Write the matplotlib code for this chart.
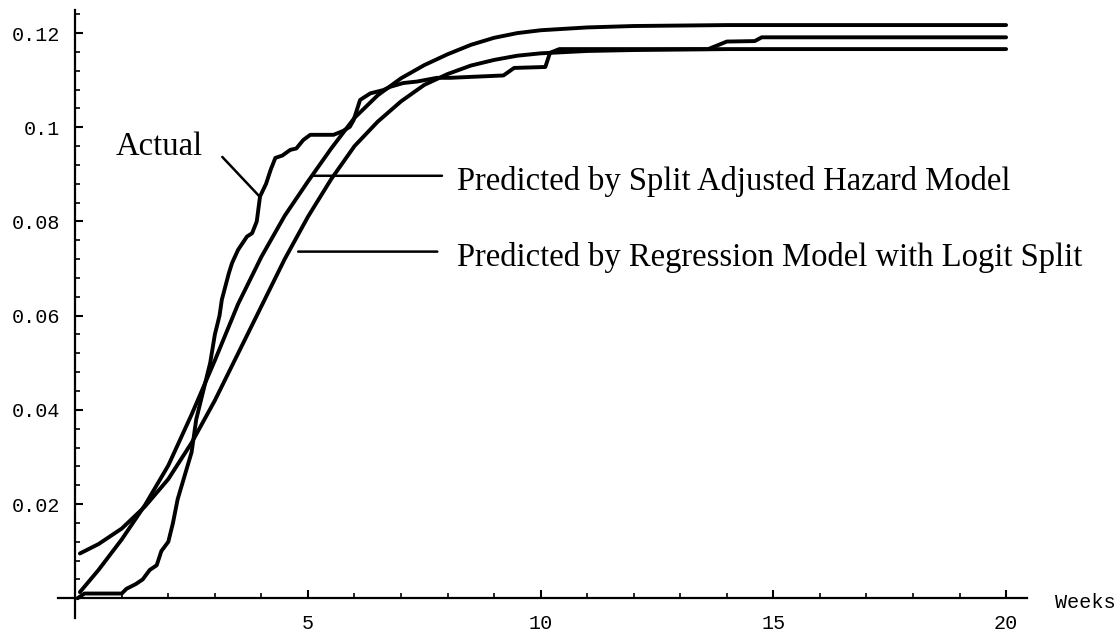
import matplotlib
matplotlib.use("Agg")
import matplotlib.pyplot as plt
from matplotlib.ticker import MultipleLocator, FixedLocator

# ---- data ----
hazard_weeks = [0.1, 0.5, 1.0, 1.5, 2.0, 2.5, 3.0, 3.5, 4.0, 4.5, 5.0, 5.5, 6.0, 6.5,
                7.0, 7.5, 8.0, 8.5, 9.0, 9.5, 10.0, 11.0, 12.0, 14.0, 20.0]
hazard_vals = [0.0013, 0.0060, 0.0125, 0.0198, 0.0282, 0.0390, 0.0505, 0.0625, 0.0725,
               0.0812, 0.0885, 0.0955, 0.1020, 0.1068, 0.1104, 0.1132, 0.1155, 0.1175,
               0.1190, 0.1200, 0.1206, 0.1212, 0.1215, 0.1217, 0.1217]

regr_weeks = [0.1, 0.5, 1.0, 1.5, 2.0, 2.5, 3.0, 3.5, 4.0, 4.5, 5.0, 5.5, 6.0, 6.5,
              7.0, 7.5, 8.0, 8.5, 9.0, 9.5, 10.0, 11.0, 12.0, 13.0, 14.0, 20.0]
regr_vals = [0.0095, 0.0115, 0.0148, 0.0195, 0.0253, 0.0330, 0.0420, 0.0520, 0.0620,
             0.0720, 0.0810, 0.0890, 0.0960, 0.1012, 0.1055, 0.1090, 0.1113, 0.1131,
             0.1143, 0.1152, 0.1157, 0.1162, 0.1164, 0.1165, 0.1166, 0.1166]

actual_weeks = [0.05, 0.2, 1.0, 1.1, 1.3, 1.45, 1.6, 1.75, 1.85, 2.0, 2.1, 2.2, 2.35,
                2.5, 2.6, 2.75, 2.9, 3.0, 3.1, 3.15, 3.3, 3.37, 3.5, 3.69, 3.8, 3.9,
                3.97, 4.1, 4.2, 4.3, 4.45, 4.62, 4.75, 4.9, 5.05, 5.55, 5.75, 5.9, 5.98,
                6.12, 6.34, 6.62, 6.77, 7.05, 7.34, 7.77, 8.06, 8.5, 9.2, 9.43, 10.1,
                10.2, 10.4, 13.6, 14.0, 14.6, 14.75, 20.0]
actual_vals = [0.0, 0.001, 0.001, 0.002, 0.003, 0.004, 0.006, 0.007, 0.010, 0.012, 0.016,
               0.021, 0.026, 0.031, 0.038, 0.044, 0.050, 0.056, 0.060, 0.0634, 0.069,
               0.0712, 0.074, 0.0768, 0.0775, 0.080, 0.0853, 0.088, 0.091, 0.0935, 0.094,
               0.0952, 0.0955, 0.0973, 0.0984, 0.0984, 0.0992, 0.1001, 0.1015, 0.1058,
               0.1072, 0.1079, 0.1086, 0.1094, 0.1097, 0.1105, 0.1105, 0.1107, 0.1110,
               0.1126, 0.1128, 0.1158, 0.1166, 0.1166, 0.1182, 0.1183, 0.1191, 0.1191]

x_major = [5, 10, 15, 20]
y_major = [0.02, 0.04, 0.06, 0.08, 0.1, 0.12]
y_labels = ["0.02", "0.04", "0.06", "0.08", "0.1", "0.12"]
x_labels = ["5", "10", "15", "20"]

# ---- figure ----
fig = plt.figure(figsize=(11.2, 6.37), dpi=100)
ax = fig.add_axes([0.0518, 0.0298, 0.8652, 0.9545])
ax.set_xlim(-0.37, 20.45)
ax.set_ylim(-0.0042, 0.1249)

for s in ["top", "right"]:
    ax.spines[s].set_visible(False)
ax.spines["left"].set_position(("data", 0))
ax.spines["bottom"].set_position(("data", 0))
for s in ["left", "bottom"]:
    ax.spines[s].set_linewidth(1.6)
    ax.spines[s].set_color("black")

lw = 2.8
for xs, ys in [(hazard_weeks, hazard_vals), (regr_weeks, regr_vals),
               (actual_weeks, actual_vals)]:
    ax.plot(xs, ys, color="black", lw=lw, solid_capstyle="round",
            solid_joinstyle="round")

mono = "Liberation Mono"
ax.xaxis.set_major_locator(FixedLocator(x_major))
ax.set_xticklabels(x_labels, fontfamily=mono, fontsize=14.5)
ax.xaxis.set_minor_locator(MultipleLocator(1))
ax.yaxis.set_major_locator(FixedLocator(y_major))
ax.set_yticklabels(y_labels, fontfamily=mono, fontsize=14.5)
ax.yaxis.set_minor_locator(FixedLocator([i * 0.004 for i in range(1, 32)]))

ax.tick_params(axis="both", which="major", direction="in", length=6, width=1.5)
ax.tick_params(axis="both", which="minor", direction="in", length=3.5, width=1.2)
ax.tick_params(axis="x", which="major", pad=11)
ax.tick_params(axis="y", which="major", pad=11)

ax.text(21.05, -0.0008, "Weeks", fontfamily=mono, fontsize=14.5, ha="left",
        va="center", clip_on=False)

serif = "Liberation Serif"
fs = 23.5
line_kw = dict(arrowstyle="-", lw=1.8, color="black", shrinkA=0, shrinkB=0)
# Actual
ax.annotate("", xy=(3.97, 0.0852), xytext=(3.16, 0.0937), arrowprops=line_kw)
ax.text(2.75, 0.0941, "Actual", fontfamily=serif, fontsize=fs, ha="right", va="baseline")
# Hazard
ax.annotate("", xy=(5.11, 0.0897), xytext=(7.88, 0.0897), arrowprops=line_kw)
ax.text(8.2, 0.0867, "Predicted by Split Adjusted Hazard Model", fontfamily=serif,
        fontsize=fs, ha="left", va="baseline")
# Regression
ax.annotate("", xy=(4.79, 0.0736), xytext=(7.78, 0.0736), arrowprops=line_kw)
ax.text(8.2, 0.0706, "Predicted by Regression Model with Logit Split", fontfamily=serif,
        fontsize=fs, ha="left", va="baseline")

fig.savefig("out.png", dpi=100)
